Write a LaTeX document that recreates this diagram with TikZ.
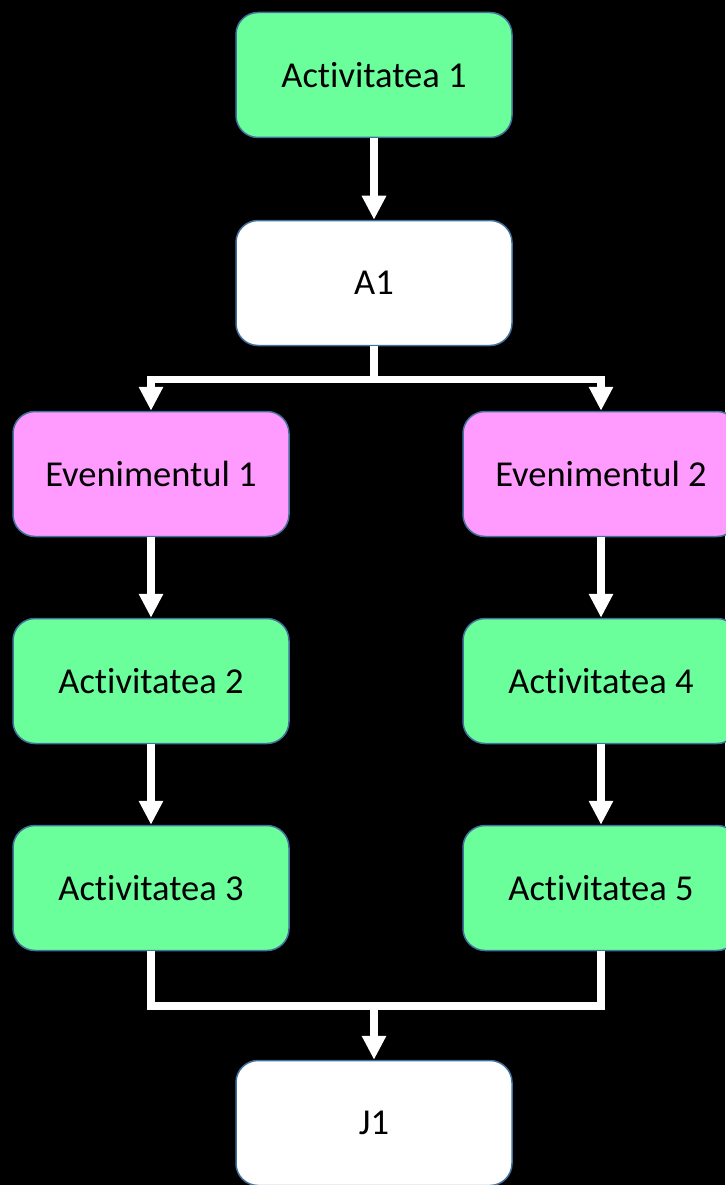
\documentclass[tikz,border=0pt]{standalone}
\usepackage{fontspec}
\setmainfont{Carlito}[Ligatures={NoCommon,NoRare,NoContextual}]
\usetikzlibrary{positioning, arrows.meta}
\definecolor{boxgreen}{HTML}{6BFF9B}
\definecolor{boxpink}{HTML}{FF9BFF}
\definecolor{boxedge}{HTML}{41719C}
\tikzset{
    x=1pt, y=1pt, % one unit is one pixel of the page
    box/.style={draw=boxedge, line width=1.5pt, rounded corners=22pt,
        minimum width=276pt, minimum height=125pt, text=black,
        font=\fontsize{36.5}{43}\selectfont}, % sets the look of every block
    flow/.style={draw=white, line width=7.5pt}, % the white connectors
    >={Triangle[width=23pt, length=24pt]}, % big white arrow heads
}
\begin{document}
\begin{tikzpicture}[
                        activity/.style={box, fill=boxgreen},
                        event/.style={box, fill=boxpink},
                        marker/.style={box, fill=white},
                        on grid,
                    ]
                    \fill[black] (0,0) rectangle (725,-1185);
                    \useasboundingbox (0,0) rectangle (725,-1185);

                    \node[activity] (act1) at (374,-75) {Activitatea 1};
                    \node[marker, below=208pt of act1] (a1) {A1};
                    \node[event, below left=191pt and 223pt of a1] (ev1) {Evenimentul 1};
                    \node[event, below right=191pt and 227pt of a1] (ev2) {Evenimentul 2};
                    \node[activity, below=207pt of ev1] (act2) {Activitatea 2};
                    \node[activity, below=207pt of act2] (act3) {Activitatea 3};
                    \node[activity, below=207pt of ev2] (act4) {Activitatea 4};
                    \node[activity, below=207pt of act4] (act5) {Activitatea 5};
                    \node[marker, below=840pt of a1] (j1) {J1};

                    \coordinate (split) at ([yshift=-33pt]a1.south);
                    \coordinate (merge) at (374,-1006);

                    \draw[flow, ->] (act1) -- (a1);
                    \draw[flow] (a1) -- (split);
                    \draw[flow, ->] (split) -| (ev1);
                    \draw[flow, ->] (split) -| (ev2);
                    \draw[flow, ->] (ev1) -- (act2);
                    \draw[flow, ->] (act2) -- (act3);
                    \draw[flow, ->] (ev2) -- (act4);
                    \draw[flow, ->] (act4) -- (act5);
                    \draw[flow] (act3) |- (merge);
                    \draw[flow] (act5) |- (merge);
                    \draw[flow, ->] (merge) -- (j1);
                \end{tikzpicture}
\end{document}
